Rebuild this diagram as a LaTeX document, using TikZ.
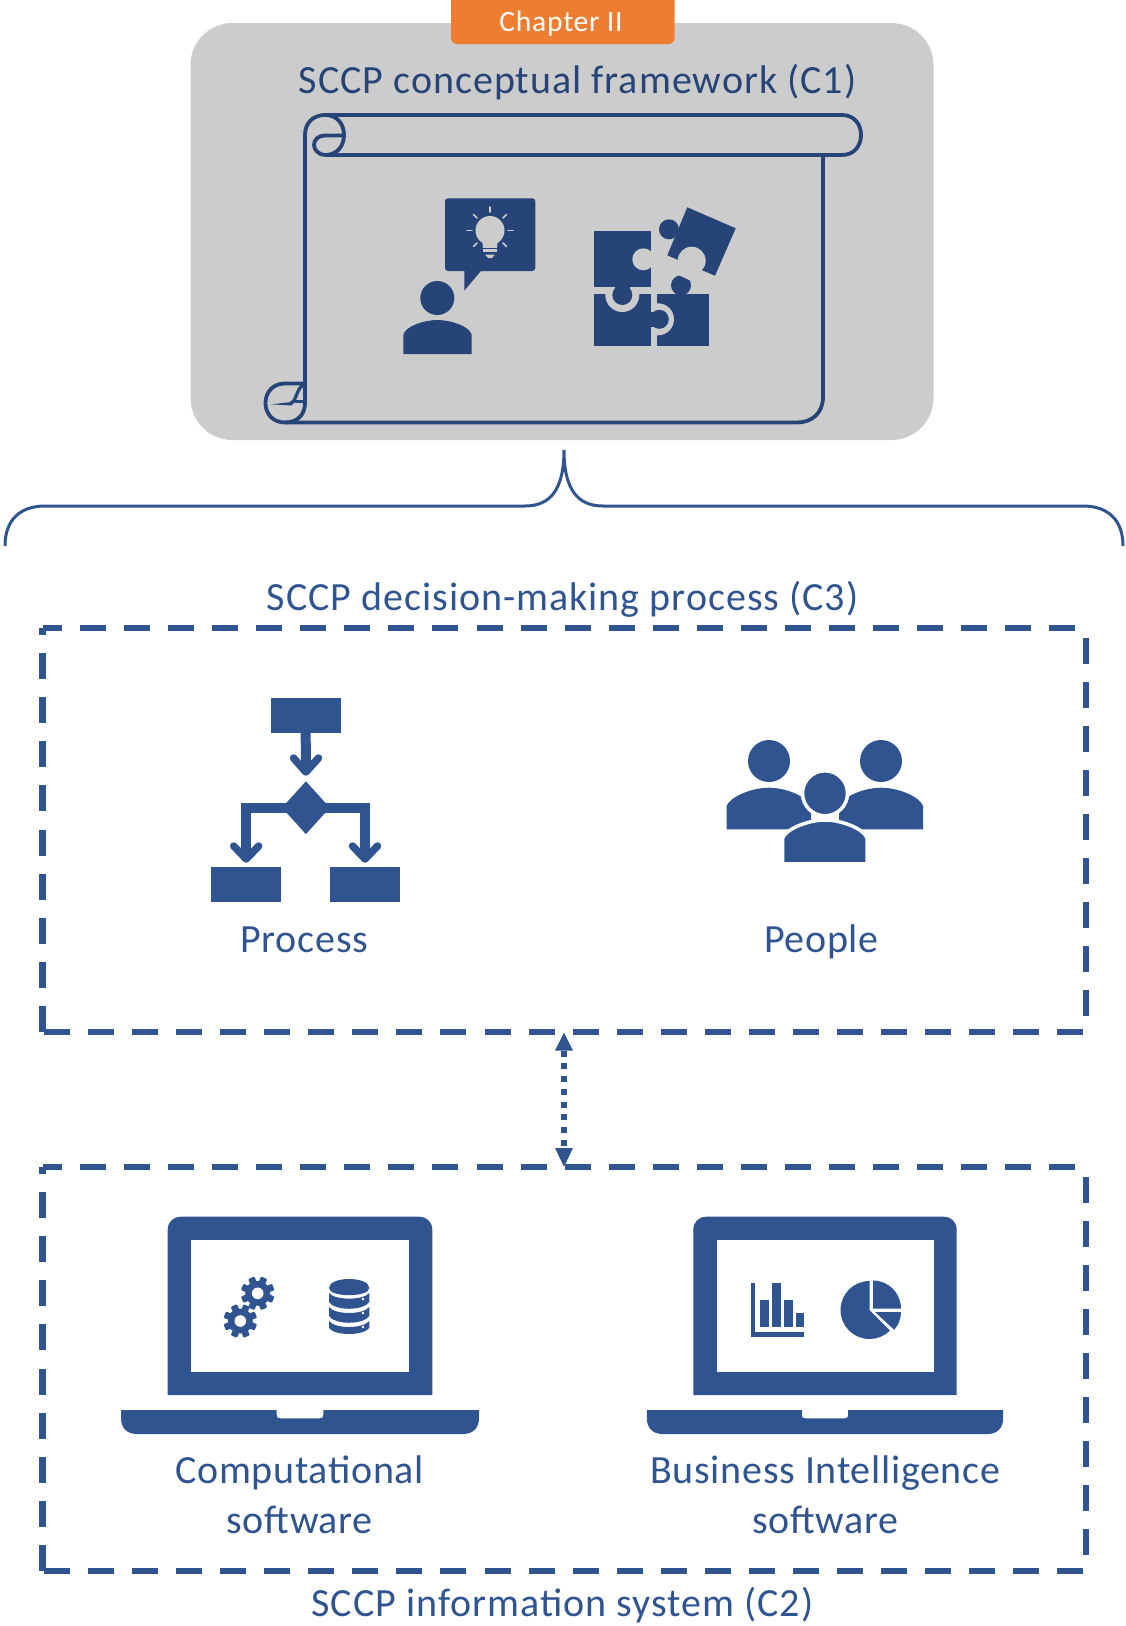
\documentclass[tikz,border=0pt]{standalone}
\usepackage{fontspec}
\setmainfont{Carlito}[LetterSpace=2.5]
\usetikzlibrary{shapes.geometric,arrows.meta}
\definecolor{navy}{HTML}{264478}
\definecolor{midblue}{HTML}{2F5490}
\definecolor{panelgray}{HTML}{CCCCCC}
\definecolor{chapterorange}{HTML}{ED7D31}
\tikzset{
  lab/.style={inner sep=0pt,font=\fontsize{40}{46}\selectfont,text=midblue,align=center},
  lab2/.style={inner sep=0pt,font=\fontsize{40}{46}\selectfont\addfontfeature{LetterSpace=1.8},text=midblue,align=center},
  scrollline/.style={draw=navy,line width=3.8pt,line join=round},
  boxframe/.style={inner sep=0pt,outer sep=0pt,minimum width=1043.2pt,minimum height=403.4pt},
  dashside/.style={draw=midblue,line width=6.3pt,dash pattern=on 26pt off 18.05pt},
  flowbox/.style={fill=midblue,inner sep=0pt,minimum width=70pt,minimum height=35pt},
  flowline/.style={draw=midblue,line width=10pt},
  flowtip/.style={draw=midblue,line width=7.5pt,line cap=round,line join=round},
  ray/.style={draw=panelgray,line width=1.6pt,line cap=round},
  bracel/.style={draw=midblue,line width=3pt},
  whitecut/.style={draw=white,line width=3.5pt,fill=midblue}
}
\newcommand{\laptop}[2]{%
  \begin{scope}[xshift=#1pt,xscale=#2]
    \fill[midblue] (167.7,1395) -- (167.7,1230) .. controls (167.7,1222) and (173,1216.7) .. (181,1216.7) -- (419,1216.7) .. controls (427,1216.7) and (432.3,1222) .. (432.3,1230) -- (432.3,1395) -- cycle;
    \fill[white] (191.3,1240) rectangle (409,1371.7);
    \fill[midblue] (121,1410) -- (276.7,1410) -- (276.7,1415) .. controls (276.7,1417.5) and (278,1418.3) .. (280,1418.3) -- (320,1418.3) .. controls (322,1418.3) and (323.3,1417.5) .. (323.3,1415) -- (323.3,1410) -- (479,1410) -- (479,1418) .. controls (479,1428) and (473,1434) .. (463,1434) -- (137,1434) .. controls (127,1434) and (121,1428) .. (121,1418) -- cycle;
  \end{scope}}
\newcommand{\gearicon}[2]{%
  \begin{scope}[shift={(#1,#2)}]
    \fill[midblue] (0,0) circle[radius=12.5pt];
    \foreach \a in {0,45,...,315}{
      \fill[midblue,rotate=\a+22.5,rounded corners=1pt] (-3.4pt,9pt) rectangle (3.4pt,16.8pt);
    }
    \fill[white] (0,0) circle[radius=5.8pt];
  \end{scope}}
\newcommand{\dashframe}[1]{%
  \draw[dashside,dash phase=6.5pt] (#1.north west) -- (#1.north east);
  \draw[dashside,dash phase=34.3pt] (#1.north east) -- (#1.south east);
  \draw[dashside,dash phase=42.55pt] (#1.south west) -- (#1.south east);
  \draw[dashside,dash phase=19.05pt] (#1.north west) -- (#1.south west);}
\begin{document}
\begin{tikzpicture}[x=1pt,y=-1pt]
\useasboundingbox (0,0) rectangle (1126,1626);
% top panel
\fill[panelgray,rounded corners=42pt] (190.5,23) rectangle (933.5,440);
\fill[chapterorange,rounded corners=6pt] (451,-12) rectangle (674.5,44);
\node[inner sep=0pt,font=\fontsize{29.6}{34}\selectfont,text=white] (chapter) at (561,24) {Chapter II};
\node[lab,text=navy] (c1title) at (577.5,82) {SCCP conceptual framework (C1)};
% scroll
\draw[scrollline] (325,115) -- (842,115) .. controls (854,115) and (861,124) .. (861,135) .. controls (861,146) and (854,155) .. (842,155) -- (325,155);
\draw[scrollline] (305,405) -- (305,135) .. controls (305,122) and (314,115) .. (325,115) .. controls (338,115) and (344,125) .. (344,135) .. controls (344,145) and (338,155) .. (325,155) .. controls (319,155) and (314,150) .. (314,145) .. controls (314,140) and (318,135.5) .. (325,135.5) -- (344,135.5);
\draw[scrollline] (823,155) -- (823,397) .. controls (823,413) and (812,422.5) .. (797,422.5) -- (285,422.5) .. controls (273,422.5) and (265.5,414) .. (265.5,403) .. controls (265.5,392) and (273,383.5) .. (285,383.5) -- (305,383.5);
\draw[scrollline] (285,422.5) .. controls (298,422.5) and (305,414) .. (305,403);
\draw[draw=navy,line width=3.3pt] (290,403.5) .. controls (297,402) and (296,388) .. (304,384.5);
\draw[draw=navy,line width=3pt] (295,401.7) -- (305,401.7);
\fill[navy] (271,404.3) -- (292,402) -- (292,405.5) -- cycle;
% person with idea
\fill[navy] (437.3,298) circle[radius=17pt];
\fill[navy] (403.3,354) -- (403.3,335) .. controls (405,326) and (425,320) .. (437.3,320) .. controls (450,320) and (470,326) .. (471.7,335) -- (471.7,354) -- cycle;
\fill[navy,rounded corners=3pt] (445,198.3) rectangle (535.3,271);
\fill[navy] (464.3,270) -- (464.3,290.7) -- (481.7,270) -- cycle;
\fill[panelgray] (490,230.5) circle[radius=14.5pt];
\fill[panelgray] (482,238) -- (498,238) -- (497,248) -- (483,248) -- cycle;
\fill[navy] (480,247.6) rectangle (500,249.2);
\fill[panelgray] (483,249.4) rectangle (497,252.4);
\fill[panelgray] (485,254.5) -- (495,254.5) -- (492,258) -- (488,258) -- cycle;
\draw[ray] (490,207) -- (490,212);
\draw[ray] (473.5,214.5) -- (477,218);
\draw[ray] (506.5,214.5) -- (503,218);
\draw[ray] (467,230.5) -- (472,230.5);
\draw[ray] (508,230.5) -- (513,230.5);
\draw[ray] (473.5,246.5) -- (477,243);
\draw[ray] (506.5,246.5) -- (503,243);
% puzzle
\fill[navy] (656.7,293.7) rectangle (709,346);
\fill[panelgray] (658,319.3) circle[radius=16pt];
\fill[navy] (594.3,293.7) rectangle (650.7,346);
\fill[navy] (659.3,319.3) circle[radius=9.5pt];
\fill[navy] (648,312) rectangle (655,327);
\fill[panelgray] (622.3,295) circle[radius=17pt];
\fill[navy] (594.3,231) rectangle (650.7,287.3);
\fill[panelgray] (643.3,259.3) circle[radius=11pt];
\fill[navy] (622.3,295) circle[radius=10pt];
\fill[navy] (615,285) rectangle (630,292);
\fill[navy] (681,285.3) circle[radius=10pt];
\fill[navy] (676,290) rectangle (686,295);
\fill[navy] (687.3,207.3) -- (735.7,228.3) -- (715,275.7) -- (667.3,255.3) -- cycle;
\fill[navy] (669,229.3) circle[radius=10pt];
\fill[panelgray] (691.7,260.7) circle[radius=14pt];
\fill[panelgray] (677,261) -- (706,274) -- (700,285) -- (672,272) -- cycle;
% brace
\coordinate (bracetip) at (564,450);
\coordinate (braceleft) at (5,546);
\coordinate (braceright) at (1123,546);
\draw[bracel] (braceleft) .. controls (5,520) and (20,506) .. (45,506) -- (525,506) .. controls (550,506) and (564,490) .. (bracetip) .. controls (564,490) and (578,506) .. (603,506) -- (1083,506) .. controls (1108,506) and (1123,520) .. (braceright);
% C3
\node[lab] (c3title) at (562.5,599) {SCCP decision-making process (C3)};
\node[boxframe] (c3) at (564.1,830) {};
\dashframe{c3}
% flowchart
\node[flowbox] (ftop) at (305.7,715.5) {};
\node[flowbox] (fleft) at (245.9,884) {};
\node[flowbox] (fright) at (365.2,884) {};
\node[diamond,fill=midblue,inner sep=0pt,minimum width=48pt,minimum height=53pt] (fdec) at (305.9,807.7) {};
\coordinate (tipa) at (305.9,772);
\coordinate (tipb) at (246.2,859);
\coordinate (tipc) at (365,859);
\draw[flowline] (ftop.south) -- (tipa);
\draw[flowtip] (293.5,758) -- (tipa) -- (318.5,758);
\draw[flowline] (fdec.center) -| (tipb);
\draw[flowline] (fdec.center) -| (tipc);
\draw[flowtip] (233.7,846) -- (tipb) -- (258.7,846);
\draw[flowtip] (352.5,846) -- (tipc) -- (377.5,846);
\node[lab2] (process) at (304.3,940) {Process};
% people
\begin{scope}[xshift=-4pt]
\fill[midblue] (773,761) circle[radius=21pt];
\fill[midblue] (885,761) circle[radius=21pt];
\fill[midblue] (730.5,829.3) -- (730.5,806) .. controls (734,797) and (755,787.7) .. (773,787.7) .. controls (790,787.7) and (815,797) .. (815,810) -- (815,829.3) -- cycle;
\fill[midblue] (927,829.3) -- (927,806) .. controls (924,797) and (903,787.7) .. (885,787.7) .. controls (868,787.7) and (843,797) .. (843,810) -- (843,829.3) -- cycle;
\draw[whitecut] (829,793.3) circle[radius=22.5pt];
\draw[whitecut] (786.6,866) -- (786.6,838) .. controls (790,829) and (812,820) .. (829,820) .. controls (846,820) and (868,829) .. (871,838) -- (871,866) -- cycle;
\fill[white] (780,862.3) rectangle (878,870);
\end{scope}
\node[lab2] (people) at (821.3,942) {People};
% connector
\node[boxframe] (c2) at (564.1,1369) {};
\dashframe{c2}
\draw[draw=midblue,line width=5.5pt,dash pattern=on 6pt off 6.7pt,shorten <=19pt,shorten >=19pt] (c3.south) -- (c2.north);
\fill[midblue] (564,1032.7) -- (573,1050.7) -- (555,1050.7) -- cycle;
\fill[midblue] (564,1166.7) -- (573,1148) -- (555,1148) -- cycle;
% laptops
\laptop{0}{1}
\laptop{526.35}{0.9955}
\gearicon{257.7}{1293.3}
\gearicon{240.3}{1321}
% database
\fill[midblue] (329,1288) .. controls (329,1276) and (369.3,1276) .. (369.3,1288) .. controls (369.3,1297.5) and (329,1297.5) .. (329,1288) -- cycle;
\fill[midblue] (329,1293) .. controls (335,1300.5) and (363,1300.5) .. (369.3,1293) -- (369.3,1302) .. controls (363,1311) and (335,1311) .. (329,1302) -- cycle;
\fill[midblue] (329,1307) .. controls (335,1315) and (363,1315) .. (369.3,1307) -- (369.3,1316) .. controls (363,1325) and (335,1325) .. (329,1316) -- cycle;
\fill[midblue] (329,1321) .. controls (335,1329) and (363,1329) .. (369.3,1321) -- (369.3,1328) .. controls (363,1336) and (335,1336) .. (329,1328) -- cycle;
\fill[white] (363,1299) circle[radius=1.3pt] (363,1313) circle[radius=1.3pt] (363,1327) circle[radius=1.3pt];
% bar chart
\fill[midblue] (750.7,1283.3) rectangle (755.3,1336.7);
\fill[midblue] (750.7,1332) rectangle (804.3,1336.7);
\fill[midblue] (760,1300) rectangle (769,1327.3);
\fill[midblue] (772,1283.3) rectangle (780.7,1327.3);
\fill[midblue] (783.7,1300) rectangle (792.7,1327.3);
\fill[midblue] (795.7,1313.3) rectangle (804.3,1327.3);
% pie
\fill[midblue] (869.5,1310) -- ++(0,-29) arc[start angle=90,end angle=315,radius=29pt] -- cycle;
\fill[midblue] (873,1308.5) -- (873,1280.5) arc[start angle=90,end angle=0,radius=28pt] -- cycle;
\fill[midblue] (875,1312) -- (901,1312) arc[start angle=0,end angle=-42,radius=26.5pt] -- cycle;
% labels
\node[lab2] (comp) at (299.7,1495) {Computational\\[4pt]software};
\node[lab2] (bi) at (825.4,1495) {Business Intelligence\\[4pt]software};
\node[lab] (c2title) at (562.5,1605) {SCCP information system (C2)};
\end{tikzpicture}
\end{document}
